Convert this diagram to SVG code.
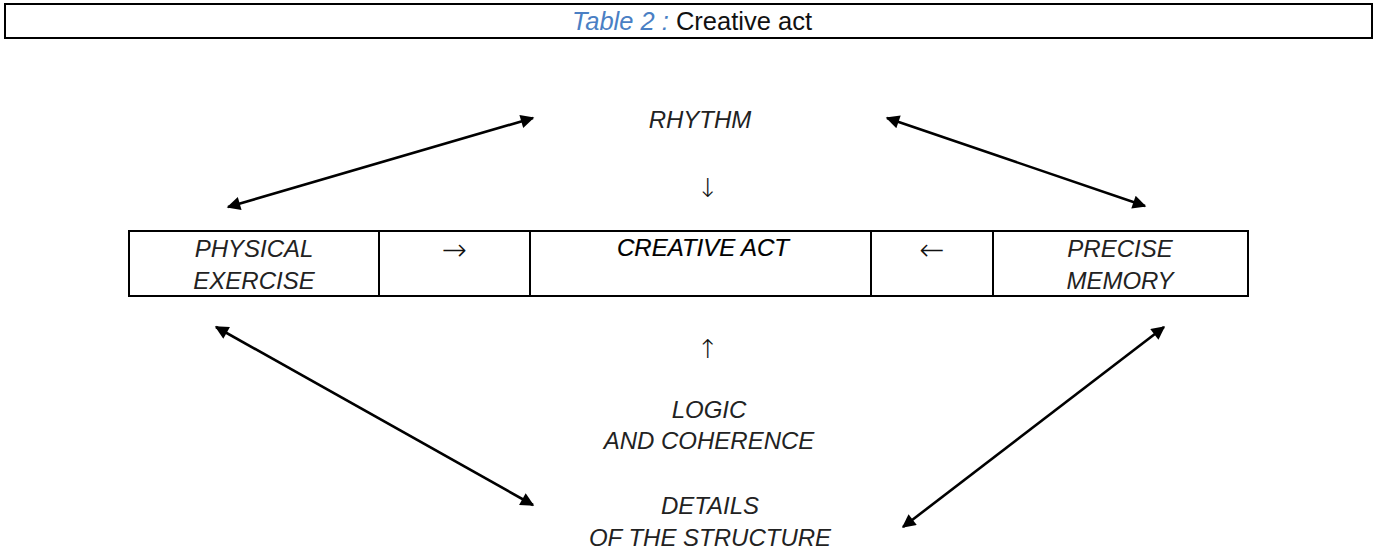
<svg xmlns="http://www.w3.org/2000/svg" width="1378" height="550" viewBox="0 0 1378 550">
<style>
.t{font-family:"Liberation Sans",Arial,sans-serif;font-style:italic;font-size:24px;fill:#222;text-anchor:middle}
.ar{font-family:"DejaVu Sans",sans-serif;font-weight:200;font-size:30px;fill:#111;text-anchor:middle}
.arv{font-family:"DejaVu Sans",sans-serif;font-weight:200;font-size:26px;fill:#111;text-anchor:middle}
.box{fill:none;stroke:#000;stroke-width:2}
.con{stroke:#000;stroke-width:2.6;fill:none;marker-start:url(#ah);marker-end:url(#ah)}
</style>
<defs>
<marker id="ah" viewBox="0 0 10 10" refX="9" refY="5" markerWidth="6.2" markerHeight="5.2" markerUnits="strokeWidth" orient="auto-start-reverse">
<path d="M0,0 L10,5 L0,10 z" fill="#000"/>
</marker>
</defs>
<rect width="1378" height="550" fill="#fff"/>
<g id="title">
<rect class="box" x="5" y="4" width="1367" height="34"/>
<text x="692" y="30" font-family="Liberation Sans, Arial, sans-serif" font-size="25.5" text-anchor="middle"><tspan fill="#4a7fc4" font-style="italic">Table 2 : </tspan><tspan fill="#111">Creative act</tspan></text>
</g>
<g id="table">
<rect class="box" x="129" y="231" width="1119" height="65"/>
<line class="box" x1="379" y1="231" x2="379" y2="296"/>
<line class="box" x1="530" y1="231" x2="530" y2="296"/>
<line class="box" x1="871" y1="231" x2="871" y2="296"/>
<line class="box" x1="993" y1="231" x2="993" y2="296"/>
</g>
<g id="physical-exercise">
<text class="t" x="254" y="257">PHYSICAL</text>
<text class="t" x="254" y="289">EXERCISE</text>
</g>
<g id="arrow-right"><text class="ar" x="454" y="260">→</text></g>
<g id="creative-act"><text class="t" x="703" y="256" style="fill:#000;stroke:#000;stroke-width:0.2">CREATIVE ACT</text></g>
<g id="arrow-left"><text class="ar" x="932" y="260">←</text></g>
<g id="precise-memory">
<text class="t" x="1120" y="257">PRECISE</text>
<text class="t" x="1120" y="289">MEMORY</text>
</g>
<g id="rhythm"><text class="t" x="700" y="128">RHYTHM</text></g>
<g id="down-arrow"><text class="arv" x="708" y="197">↓</text></g>
<g id="up-arrow"><text class="arv" x="708" y="358">↑</text></g>
<g id="logic">
<text class="t" x="709" y="418">LOGIC</text>
<text class="t" x="709" y="449">AND COHERENCE</text>
</g>
<g id="details">
<text class="t" x="710" y="514">DETAILS</text>
<text class="t" x="710" y="546">OF THE STRUCTURE</text>
</g>
<g id="connectors">
<line class="con" x1="228" y1="207" x2="533" y2="118"/>
<line class="con" x1="887" y1="118" x2="1145" y2="206"/>
<line class="con" x1="216" y1="327" x2="533" y2="505"/>
<line class="con" x1="1164" y1="327" x2="903" y2="527"/>
</g>
</svg>
